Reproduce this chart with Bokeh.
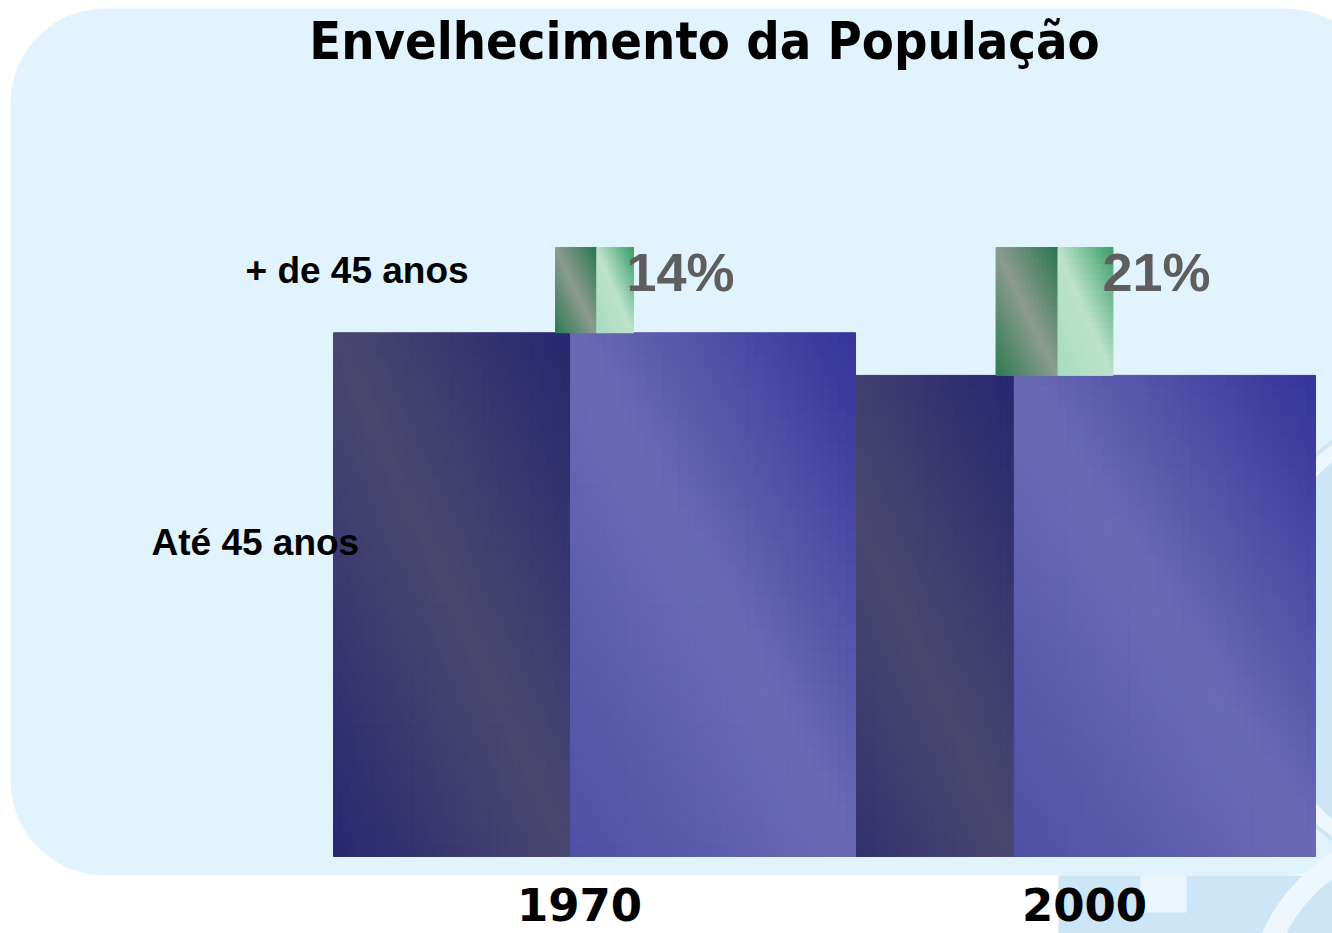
import numpy as np
from bokeh.plotting import figure
from bokeh.models import Range1d, ColumnDataSource
from bokeh.core.properties import value
from bokeh.embed import file_html
from bokeh.resources import INLINE

# ---- data ----
title_text = "Envelhecimento da População"
years = ["1970", "2000"]
under45 = [86, 79]          # % "Até 45 anos"
over45 = [14, 21]           # % "+ de 45 anos"
pct_labels = ["14%", "21%"]
series_names = ["Até 45 anos", "+ de 45 anos"]

# ---- figure ----
W, H = 1332, 933
p = figure(width=W, height=H, output_backend="svg", toolbar_location=None,
           x_range=Range1d(-1.29130, 1.60435), y_range=Range1d(-12.644, 140.558),
           x_axis_location=None, y_axis_location=None, min_border=0,
           background_fill_color="white", border_fill_color="white")
p.outline_line_color = None
p.grid.visible = False
p.extra_x_ranges = {"px": Range1d(0, 1332)}
p.extra_y_ranges = {"px": Range1d(933, 0)}
PX = dict(x_range_name="px", y_range_name="px")

# ---- slide background ----
def rounded_rect(x0, y0, x1, y1, r, n=24):
    xs, ys = [], []
    corners = [(x0 + r, y0 + r, 180, 270), (x1 - r, y0 + r, 270, 360),
               (x1 - r, y1 - r, 0, 90), (x0 + r, y1 - r, 90, 180)]
    for cx, cy, a0, a1 in corners:
        t = np.radians(np.linspace(a0, a1, n))
        xs += list(cx + r * np.cos(t)); ys += list(cy + r * np.sin(t))
    return xs, ys

bx, by = rounded_rect(10, 8, 1380, 875, 95)
p.patch(bx, by, fill_color="#e1f3fd", line_color=None, **PX)

# watermark logo (pale) at the lower right
p.quad(left=[1058], right=[1340], top=[875], bottom=[940], fill_color="#cde6f7", line_color=None, **PX)
p.quad(left=[1140], right=[1186], top=[875], bottom=[912], fill_color="#eaf5fc", line_color=None, **PX)
p.annulus(x=[1480], y=[640], inner_radius=0, outer_radius=250, fill_color="#cde6f7", line_color=None, **PX)
p.annulus(x=[1480], y=[640], inner_radius=232, outer_radius=246, fill_color="#eef7fd", line_color=None, **PX)
p.annulus(x=[1420], y=[1000], inner_radius=150, outer_radius=172, fill_color="#eef7fd", line_color=None, **PX)

# ---- gradient faces ----
def hex2rgb(h):
    h = h.lstrip("#"); return np.array([int(h[i:i + 2], 16) for i in (0, 2, 4)], float)

def face(x0, x1, y0, y1, nx, ny, C, A, B):
    C, A, B = hex2rgb(C), hex2rgb(A), hex2rgb(B)
    xs = np.linspace(x0, x1, nx + 1); ys = np.linspace(y0, y1, ny + 1)
    L, R, T, Bt, col = [], [], [], [], []
    for i in range(nx):
        for j in range(ny):
            u = (i + 0.5) / nx; w = 1 - (j + 0.5) / ny
            s = u - w
            c = C + (A - C) * s if s > 0 else C + (B - C) * (-s)
            c = np.clip(c, 0, 255).astype(int)
            L.append(xs[i]); R.append(xs[i + 1]); Bt.append(ys[j]); T.append(ys[j + 1])
            col.append("#%02x%02x%02x" % tuple(c))
    return dict(left=L, right=R, top=T, bottom=Bt, color=col)

def draw_face(d):
    src = ColumnDataSource(d)
    p.quad(left="left", right="right", top="top", bottom="bottom", source=src,
           fill_color="color", line_color="color", line_width=1)

bar_w = 1.1348
split_frac = [0.454, 0.423]
green_k = 0.0121
green_split = 0.53

for k in [1, 0]:  # 2000 behind, 1970 in front
    left = k - bar_w / 2
    right = k + bar_w / 2
    sp = left + split_frac[k] * bar_w
    draw_face(face(left, sp, 0, under45[k], 30, 48, "#4a4870", "#28276f", "#29286f"))
    draw_face(face(sp, right, 0, under45[k], 34, 48, "#6b6bb5", "#35349a", "#4f4fa6"))

for k in [0, 1]:
    gw = over45[k] * green_k
    gl = k - gw / 2
    gr = k + gw / 2
    gs = gl + green_split * gw
    top = under45[k] + over45[k]
    draw_face(face(gl, gs, under45[k], top, 16, 24, "#8c9c90", "#2c7650", "#2c7a52"))
    draw_face(face(gs, gr, under45[k], top, 16, 24, "#bde3cc", "#3a9e68", "#a8dcc0"))

# ---- texts ----
p.text(x=[704], y=[40], text=[title_text], text_font=value("DejaVu Sans Condensed"),
       text_font_style="bold", text_font_size="52px", text_align="center",
       text_baseline="alphabetic", text_color="#000000", **PX)

p.text(x=[245, 151], y=[270, 542], text=[series_names[1], series_names[0]],
       text_font=value("Liberation Sans"), text_font_style="bold",
       text_font_size="37px", text_align="left", text_baseline="alphabetic",
       text_color="#000000", **PX)

p.text(x=[626, 1102], y=[271, 271], text=pct_labels,
       text_font=value("Liberation Sans"), text_font_style="bold",
       text_font_size="54px", text_align="left", text_baseline="alphabetic",
       text_color="#5e5e5e", **PX)

p.text(x=[579, 1084], y=[904, 904], text=years,
       text_font=value("DejaVu Sans"), text_font_style="bold",
       text_font_size="45px", text_align="center", text_baseline="alphabetic",
       text_color="#000000", **PX)

open("out.html", "w").write(file_html(p, INLINE))
